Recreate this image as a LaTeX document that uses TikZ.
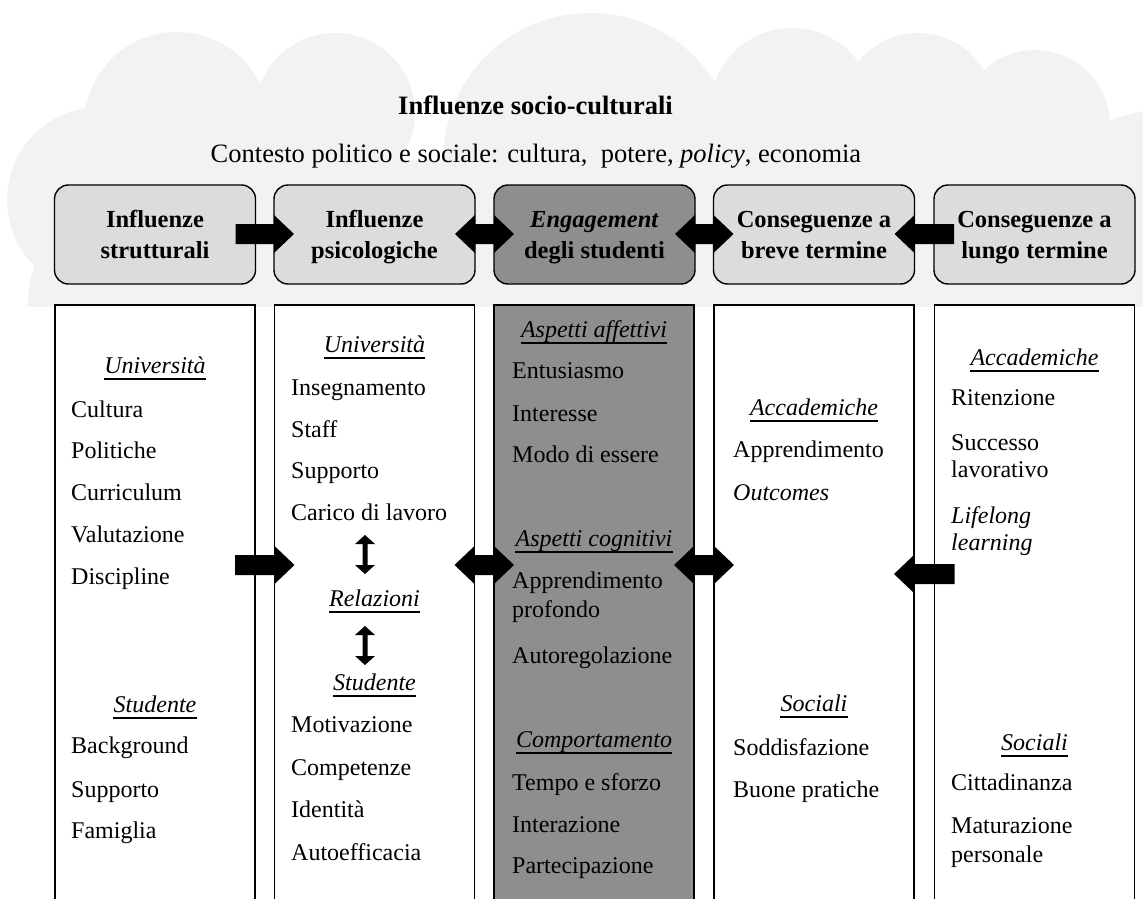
\documentclass[tikz,border=0pt]{standalone}
\usepackage{fontspec}
\setmainfont{Liberation Serif}
\usetikzlibrary{calc}

\definecolor{cloudgray}{RGB}{242,242,242}
\definecolor{hdrgray}{RGB}{220,220,220}
\definecolor{coregray}{RGB}{142,142,142}

\tikzset{
  hdrbox/.style={draw=black, line width=1.4pt, rounded corners=14pt, fill=hdrgray,
    minimum width=201pt, minimum height=99pt, outer sep=0pt, inner sep=0pt},
  colbox/.style={draw=black, line width=1.3pt, fill=white, minimum width=200pt,
    minimum height=620pt, outer sep=0pt, inner sep=0pt, anchor=north},
  hdrtext/.style={font=\fontsize{24.5}{28}\selectfont\bfseries, anchor=base, inner sep=0pt},
  itemtext/.style={font=\fontsize{24}{28.5}\selectfont, anchor=base west, inner sep=0pt},
  headtext/.style={font=\fontsize{24}{28.5}\selectfont\itshape, anchor=base, inner sep=0pt},
  blk/.style={fill=black},
  ul/.style={line width=1.6pt},
  puff/.style={fill=cloudgray},
}

% block arrow pointing right, from node #1 into node #2, on the row of coordinate #3
\newcommand{\blockright}[3]{%
  \fill[blk] ($(#1.east |- #3)+(-20,-10)$) -- ($(#2.west |- #3)+(0,-10)$)
    -- ($(#2.west |- #3)+(0,-19)$) -- ($(#2.west |- #3)+(20,0)$)
    -- ($(#2.west |- #3)+(0,19)$) -- ($(#2.west |- #3)+(0,10)$)
    -- ($(#1.east |- #3)+(-20,10)$) -- cycle;}
% block arrow pointing left, from node #2 into node #1
\newcommand{\blockleft}[3]{%
  \fill[blk] ($(#2.west |- #3)+(20,-10)$) -- ($(#1.east |- #3)+(0,-10)$)
    -- ($(#1.east |- #3)+(0,-19)$) -- ($(#1.east |- #3)+(-20,0)$)
    -- ($(#1.east |- #3)+(0,19)$) -- ($(#1.east |- #3)+(0,10)$)
    -- ($(#2.west |- #3)+(20,10)$) -- cycle;}
% two-headed block arrow between nodes #1 and #2
\newcommand{\blockboth}[3]{%
  \fill[blk] ($(#1.east |- #3)+(-20,0)$) -- ($(#1.east |- #3)+(0,-19)$)
    -- ($(#1.east |- #3)+(0,-10)$) -- ($(#2.west |- #3)+(0,-10)$)
    -- ($(#2.west |- #3)+(0,-19)$) -- ($(#2.west |- #3)+(20,0)$)
    -- ($(#2.west |- #3)+(0,19)$) -- ($(#2.west |- #3)+(0,10)$)
    -- ($(#1.east |- #3)+(0,10)$) -- ($(#1.east |- #3)+(0,19)$) -- cycle;}
% small vertical two-headed arrow between coordinates #1 (top) and #2 (bottom)
\newcommand{\smallvert}[2]{%
  \fill[blk] (#1) -- ($(#1)+(10,9)$) -- ($(#1)+(2.5,9)$) -- ($(#2)+(2.5,-9)$)
    -- ($(#2)+(10,-9)$) -- (#2) -- ($(#2)+(-10,-9)$) -- ($(#2)+(-2.5,-9)$)
    -- ($(#1)+(-2.5,9)$) -- ($(#1)+(-10,9)$) -- cycle;}
% underlined italic group heading
\newcommand{\uhead}[4]{%
  \node[headtext] (#1) at (#2,#3) {#4};
  \draw[ul] ($(#1.base west)+(0,6)$) -- ($(#1.base east)+(0,6)$);}

\begin{document}
\begin{tikzpicture}[x=1pt, y=-1pt]
\useasboundingbox (0,0) rectangle (1143,899);
\begin{scope}
\clip (0,0) rectangle (1143,899);

% cloud of socio-cultural influences, built from overlapping puffs
\begin{scope}
  \clip (0,0) rectangle (1143,306);
  \fill[puff] (177,125) circle (93);
  \fill[puff] (335,113) circle (80);
  \fill[puff] (590,160) circle (147);
  \fill[puff] (792,110) circle (82);
  \fill[puff] (918,110) circle (77);
  \fill[puff] (1035,125) circle (75);
  \fill[puff] (1160,230) circle (120);
  \fill[puff] (100,200) circle (93);
  \fill[puff] (120,300) circle (92);
  \fill[puff] (90,160) rectangle (1143,310);
\end{scope}

\node[font=\fontsize{26.5}{30}\selectfont\bfseries, anchor=base, inner sep=0pt] (title) at (535.5,114) {Influenze socio-culturali};
\node[font=\fontsize{26.5}{30}\selectfont, anchor=base, inner sep=0pt] (ctx) at (536,162) {Contesto politico e sociale: cultura,~ potere, \textit{policy}, economia};

% header row
\node[hdrbox] (h1) at (155,234.5) {};
\node[hdrbox] (h2) at (374.5,234.5) {};
\node[hdrbox, fill=coregray] (h3) at (594.5,234.5) {};
\node[hdrbox] (h4) at (814,234.5) {};
\node[hdrbox] (h5) at (1034.5,234.5) {};

\node[hdrtext] (h1a) at (155,227) {Influenze};
\node[hdrtext] (h1b) at (155,258) {strutturali};
\node[hdrtext] (h2a) at (374.5,227) {Influenze};
\node[hdrtext] (h2b) at (374.5,258) {psicologiche};
\node[hdrtext] (h3a) at (594.5,227) {\textit{Engagement}};
\node[hdrtext] (h3b) at (594.5,258) {degli studenti};
\node[hdrtext] (h4a) at (814,227) {Conseguenze a};
\node[hdrtext] (h4b) at (814,258) {breve termine};
\node[hdrtext] (h5a) at (1034.5,227) {Conseguenze a};
\node[hdrtext] (h5b) at (1034.5,258) {lungo termine};

% columns
\node[colbox] (c1) at (155,305) {};
\node[colbox] (c2) at (374.5,305) {};
\node[colbox, fill=coregray] (c3) at (594,305) {};
\node[colbox] (c4) at (814,305) {};
\node[colbox] (c5) at (1034.5,305) {};

% column 1
\uhead{c1u}{155}{373}{Università}
\node[itemtext] (c1i1) at (71,417) {Cultura};
\node[itemtext] (c1i2) at (71,458) {Politiche};
\node[itemtext] (c1i3) at (71,500) {Curriculum};
\node[itemtext] (c1i4) at (71,542) {Valutazione};
\node[itemtext] (c1i5) at (71,584) {Discipline};
\uhead{c1s}{155}{712}{Studente}
\node[itemtext] (c1j1) at (71,753) {Background};
\node[itemtext] (c1j2) at (71,797) {Supporto};
\node[itemtext] (c1j3) at (71,838) {Famiglia};

% column 2
\uhead{c2u}{374.5}{352}{Università}
\node[itemtext] (c2i1) at (291,395) {Insegnamento};
\node[itemtext] (c2i2) at (291,437) {Staff};
\node[itemtext] (c2i3) at (291,478) {Supporto};
\node[itemtext] (c2i4) at (291,520) {Carico di lavoro};
\uhead{c2r}{374.5}{606}{Relazioni}
\uhead{c2s}{374.5}{690}{Studente}
\node[itemtext] (c2j1) at (291,732) {Motivazione};
\node[itemtext] (c2j2) at (291,775) {Competenze};
\node[itemtext] (c2j3) at (291,817) {Identità};
\node[itemtext] (c2j4) at (291,860) {Autoefficacia};

% column 3
\uhead{c3a}{594}{337}{Aspetti affettivi}
\node[itemtext] (c3i1) at (512,378) {Entusiasmo};
\node[itemtext] (c3i2) at (512,421) {Interesse};
\node[itemtext] (c3i3) at (512,462) {Modo di essere};
\uhead{c3c}{594}{546}{Aspetti cognitivi}
\node[itemtext] (c3j1) at (512,588) {Apprendimento};
\node[itemtext] (c3j1b) at (512,617) {profondo};
\node[itemtext] (c3j2) at (512,663) {Autoregolazione};
\uhead{c3b}{594}{747}{Comportamento}
\node[itemtext] (c3k1) at (512,790) {Tempo e sforzo};
\node[itemtext] (c3k2) at (512,832) {Interazione};
\node[itemtext] (c3k3) at (512,873) {Partecipazione};

% column 4
\uhead{c4a}{814}{415}{Accademiche}
\node[itemtext] (c4i1) at (733,457) {Apprendimento};
\node[itemtext] (c4i2) at (733,500) {\textit{Outcomes}};
\uhead{c4s}{814}{711}{Sociali}
\node[itemtext] (c4j1) at (733,755) {Soddisfazione};
\node[itemtext] (c4j2) at (733,797) {Buone pratiche};

% column 5
\uhead{c5a}{1034.5}{365}{Accademiche}
\node[itemtext] (c5i1) at (951,405) {Ritenzione};
\node[itemtext] (c5i2) at (951,450) {Successo};
\node[itemtext] (c5i2b) at (951,477) {lavorativo};
\node[itemtext] (c5i3) at (951,523) {\textit{Lifelong}};
\node[itemtext] (c5i3b) at (951,550) {\textit{learning}};
\uhead{c5s}{1034.5}{750}{Sociali}
\node[itemtext] (c5j1) at (951,790) {Cittadinanza};
\node[itemtext] (c5j2) at (951,833) {Maturazione};
\node[itemtext] (c5j2b) at (951,862) {personale};

% arrow rows
\coordinate (hrow) at (0,234);
\coordinate (crow) at (0,565);
\coordinate (lrow) at (0,574);

\blockright{h1}{h2}{hrow}
\blockboth{h2}{h3}{hrow}
\blockboth{h3}{h4}{hrow}
\blockleft{h4}{h5}{hrow}

\blockright{c1}{c2}{crow}
\blockboth{c2}{c3}{crow}
\blockboth{c3}{c4}{crow}
\blockleft{c4}{c5}{lrow}

% links inside the psychological column
\coordinate (v1t) at (365,535);
\coordinate (v1b) at (365,574);
\coordinate (v2t) at (365,626);
\coordinate (v2b) at (365,665);
\smallvert{v1t}{v1b}
\smallvert{v2t}{v2b}

\end{scope}
\end{tikzpicture}
\end{document}
